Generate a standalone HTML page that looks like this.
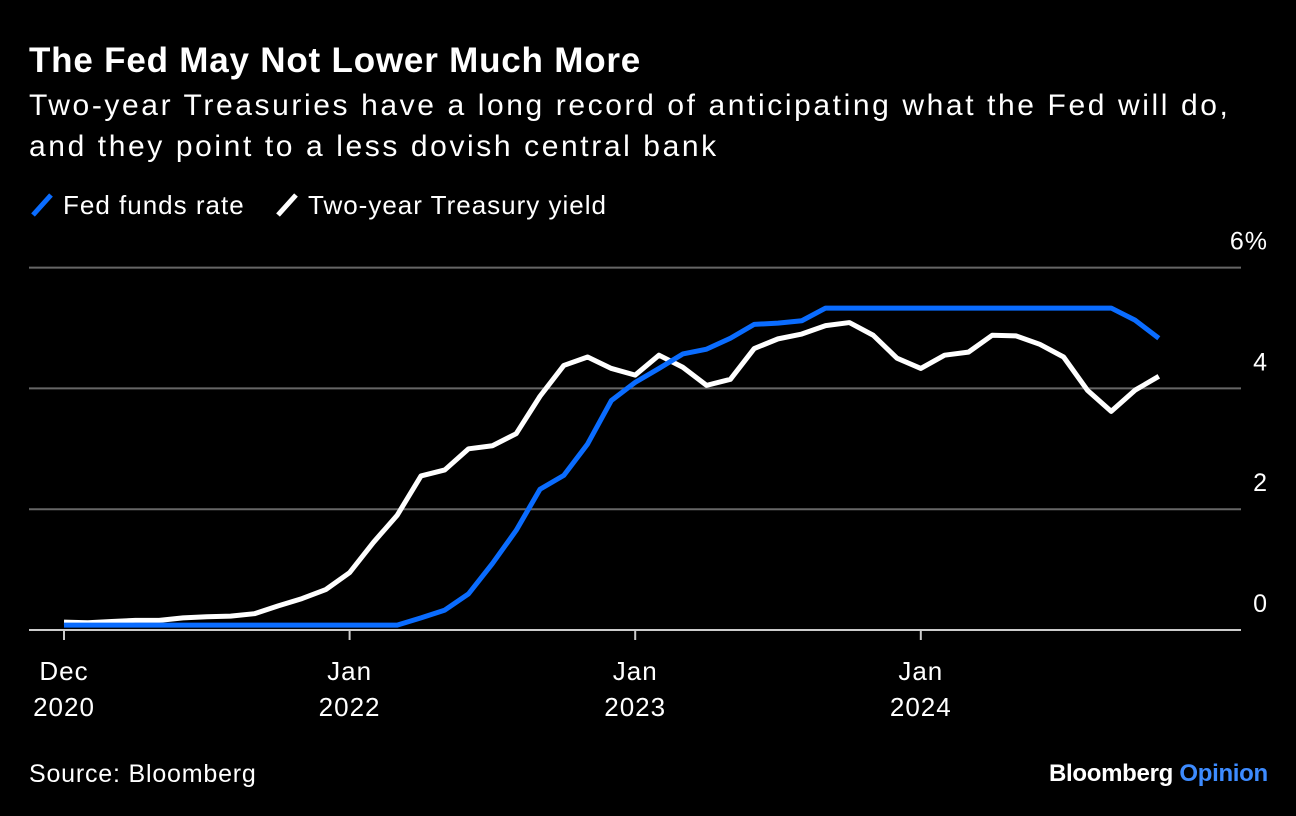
<!DOCTYPE html>
<html><head><meta charset="utf-8"><style>
html,body{margin:0;padding:0;background:#000;}
body{width:1296px;height:816px;position:relative;overflow:hidden;font-family:"Liberation Sans",Arial,sans-serif;color:#fff;}
.t{position:absolute;white-space:nowrap;}
</style></head><body>
<div class="t" style="left:29px;top:41px;font-size:35px;font-weight:bold;letter-spacing:0.8px;">The Fed May Not Lower Much More</div>
<div class="t" style="left:29px;top:85px;font-size:30px;line-height:41px;letter-spacing:2.6px;">Two-year Treasuries have a long record of anticipating what the Fed will do,<br>and they point to a less dovish central bank</div>
<div class="t" style="left:29px;top:190px;font-size:26px;letter-spacing:1px;"><svg width="26" height="28" style="vertical-align:-5px;margin-right:8px"><line x1="4" y1="24" x2="22" y2="4" stroke="#0a6cff" stroke-width="5"/></svg>Fed funds rate</div>
<div class="t" style="left:274px;top:190px;font-size:26px;letter-spacing:1px;"><svg width="26" height="28" style="vertical-align:-5px;margin-right:8px"><line x1="4" y1="24" x2="22" y2="4" stroke="#fff" stroke-width="5"/></svg>Two-year Treasury yield</div>
<svg id="chart" width="1296" height="816" style="position:absolute;left:0;top:0"></svg>
<div class="t" style="left:29px;top:760px;font-size:25px;letter-spacing:0.8px;">Source: Bloomberg</div>
<div class="t" style="left:1049px;top:760px;font-size:24px;font-weight:bold;letter-spacing:-0.3px;">Bloomberg <span style="color:#3d8bff">Opinion</span></div>
<script>
const fedFunds=[0.08,0.08,0.08,0.08,0.08,0.08,0.08,0.08,0.08,0.08,0.08,0.08,0.08,0.08,0.08,0.2,0.33,0.6,1.1,1.65,2.33,2.56,3.08,3.8,4.1,4.33,4.57,4.65,4.83,5.06,5.08,5.12,5.33,5.33,5.33,5.33,5.33,5.33,5.33,5.33,5.33,5.33,5.33,5.33,5.33,5.13,4.83];
const twoYear=[0.13,0.12,0.14,0.16,0.16,0.2,0.22,0.23,0.27,0.4,0.52,0.67,0.95,1.45,1.9,2.55,2.65,3.0,3.05,3.25,3.87,4.38,4.52,4.33,4.22,4.55,4.35,4.05,4.15,4.66,4.82,4.9,5.04,5.09,4.88,4.5,4.33,4.55,4.6,4.88,4.87,4.73,4.52,3.97,3.62,3.97,4.2];
const yTicks=[0,2,4,6];
const xTickLabels=[["Dec","2020"],["Jan","2022"],["Jan","2023"],["Jan","2024"]];
const xTickMonths=[0,12,24,36];
const NS="http://www.w3.org/2000/svg";
const svg=document.getElementById('chart');
const x=i=>64+i*23.8;
const y=v=>630-v*60.4;
function mk(t,a){const e=document.createElementNS(NS,t);for(const k in a)e.setAttribute(k,a[k]);svg.appendChild(e);return e;}
yTicks.forEach(v=>{
 if(v>0){const l=mk('line',{x1:29,x2:1241,y1:y(v),y2:y(v),stroke:'#666','stroke-width':2});
 
 }
 const t=mk('text',{x:1268,y:y(v)-18,'text-anchor':'end','font-size':25,fill:'#fff','font-family':'Liberation Sans, Arial, sans-serif','letter-spacing':1});
 t.textContent=v===6?'6%':String(v);
 
 
});
const ax=mk('line',{x1:29,x2:1241,y1:630,y2:630,stroke:'#ccc','stroke-width':2});


xTickMonths.forEach((m,k)=>{
 const tk=mk('line',{x1:x(m),x2:x(m),y1:630,y2:640,stroke:'#ccc','stroke-width':2});
 
 
 xTickLabels[k].forEach((s,j)=>{
  const t=mk('text',{x:x(m),y:680+j*36,'text-anchor':'middle','font-size':26,fill:'#fff','font-family':'Liberation Sans, Arial, sans-serif','letter-spacing':1});
  t.textContent=s;
  
  
 });
});
function line(d,c,n){
 const p=mk('polyline',{points:d.map((v,i)=>x(i)+','+y(v)).join(' '),fill:'none',stroke:c,'stroke-width':5,'stroke-linejoin':'round'});
 
 
}
line(twoYear,'#fff','two-year-yield-line');
line(fedFunds,'#0a6cff','fed-funds-line');
</script>
</body></html>
